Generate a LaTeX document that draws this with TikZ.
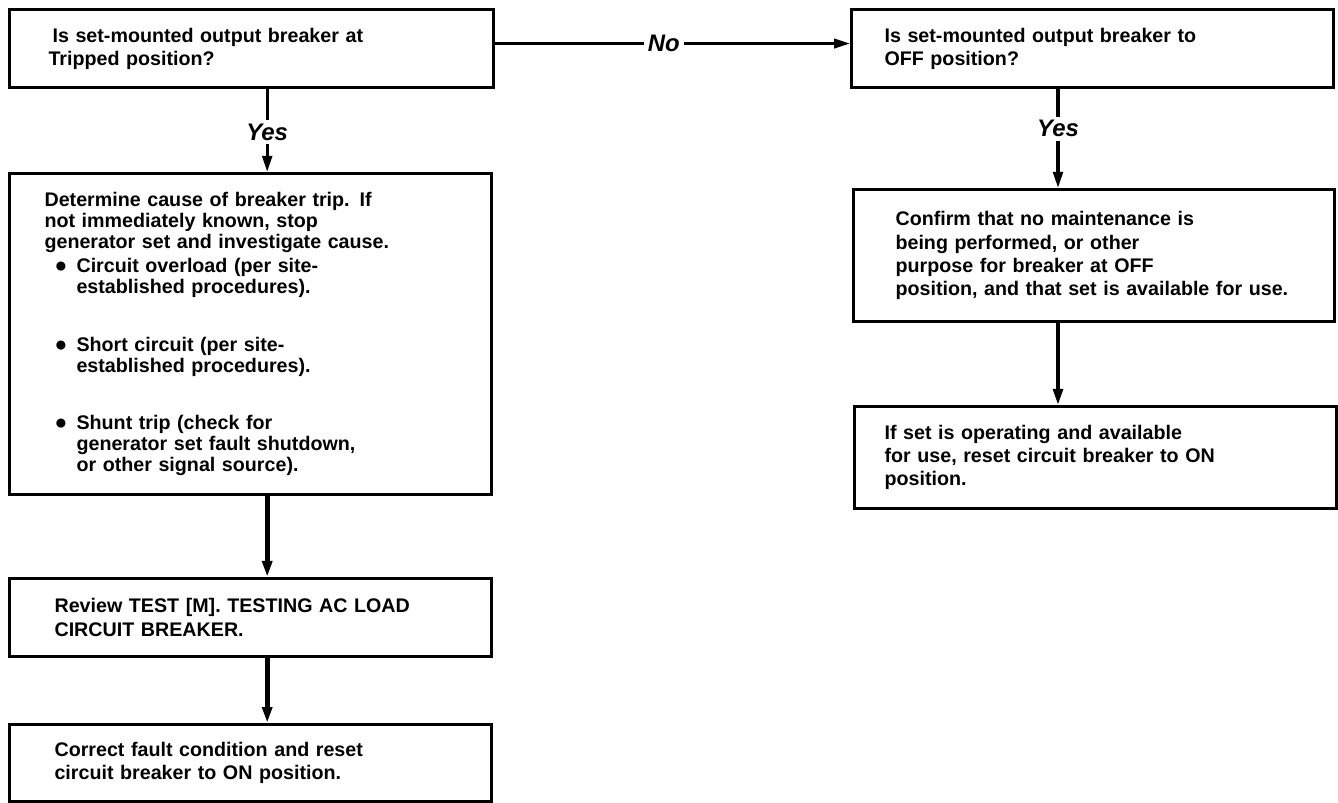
\documentclass[tikz,border=0pt]{standalone}
\usepackage{fontspec}
\setmainfont{Liberation Sans}
\usetikzlibrary{positioning,calc}
\usetikzlibrary{arrows.meta}
\tikzset{
  box/.style={draw=black,line width=2.2pt,anchor=north west,align=left,inner ysep=0pt,
    font=\bfseries\fontsize{14}{16.5}\selectfont},
  stem/.style={draw=black,line width=2.2pt},
  flow/.style={stem,-{Triangle[length=4mm,width=2.4mm]}},
  flowthick/.style={flow,line width=3.4pt},
  answer/.style={font=\bfseries\itshape\fontsize{17}{20}\selectfont,inner sep=2.5pt},
}
\newcommand{\bul}[1]{\hspace*{0.25cm}\makebox[0.55cm][l]{\fontsize{15}{15}\selectfont●}\parbox[t]{9.3cm}{#1}}

\begin{document}
\begin{tikzpicture}
\useasboundingbox (0,0) rectangle (33.45,-20.075);
\coordinate (lx) at (6.68,0);
\coordinate (rx) at (26.45,0);
% left column
\node[box,minimum width=12.1cm,minimum height=1.95cm,text width=10.15cm,inner xsep=0.975cm]
  (q1) at (0.2,-0.2) {\hspace*{0.1cm}Is set-mounted output breaker at\\Tripped position?};
\node[box,minimum width=12.05cm,minimum height=8.025cm,text width=10.3cm,inner xsep=0.875cm,
  font=\bfseries\fontsize{14}{14.9}\selectfont]
  (q3) at (0.2,-4.3) {Determine cause of breaker trip. If\\
  not immediately known, stop\\
  generator set and investigate cause.\\[0.075cm]
  \bul{Circuit overload (per site-\\established procedures).}\\[0.95cm]
  \bul{Short circuit (per site-\\established procedures).}\\[0.95cm]
  \bul{Shunt trip (check for\\generator set fault shutdown,\\or other signal source).}};
\node[box,minimum width=12.05cm,minimum height=1.95cm,text width=9.8cm,inner xsep=1.125cm]
  (q4) at (0.2,-14.425) {Review TEST [M]. TESTING AC LOAD\\CIRCUIT BREAKER.};
\node[box,minimum width=12.05cm,minimum height=1.925cm,text width=9.8cm,inner xsep=1.125cm]
  (q5) at (0.2,-18.075) {Correct fault condition and reset\\circuit breaker to ON position.};
% right column
\node[box,minimum width=12.05cm,minimum height=1.95cm,text width=10.4cm,inner xsep=0.825cm]
  (q2) at (21.25,-0.2) {Is set-mounted output breaker to\\OFF position?};
\node[box,minimum width=12.025cm,minimum height=3.3cm,text width=9.925cm,inner xsep=1.05cm]
  (q6) at (21.3,-4.7) {Confirm that no maintenance is\\being performed, or other\\
  purpose for breaker at OFF\\position, and that set is available for use.};
\node[box,minimum width=12.05cm,minimum height=2.55cm,text width=10.55cm,inner xsep=0.75cm]
  (q7) at (21.325,-10.125) {If set is operating and available\\for use, reset circuit breaker to ON\\position.};
% answers
\node[answer] (yes1) at (6.68,-3.3) {Yes};
\node[answer] (yes2) at (26.45,-3.22) {Yes};
\draw[flow,line width=1.8pt] ([yshift=0.125cm]q1.east) --
  node[answer,fill=white,pos=0.475,inner xsep=3pt] (nolab) {No} ([yshift=0.125cm]q2.west);
\draw[stem] (q1.south -| yes1) -- (yes1);
\draw[flow] (yes1) -- (q3.north -| yes1);
\draw[stem] (q2.south -| yes2) -- (yes2);
\draw[flow] (yes2) -- (q6.north -| yes2);
\draw[flowthick] (q3.south -| lx) -- (q4.north -| lx);
\draw[flowthick] (q4.south -| lx) -- (q5.north -| lx);
\draw[flow,line width=2.6pt] (q6.south -| rx) -- (q7.north -| rx);
\end{tikzpicture}
\end{document}
